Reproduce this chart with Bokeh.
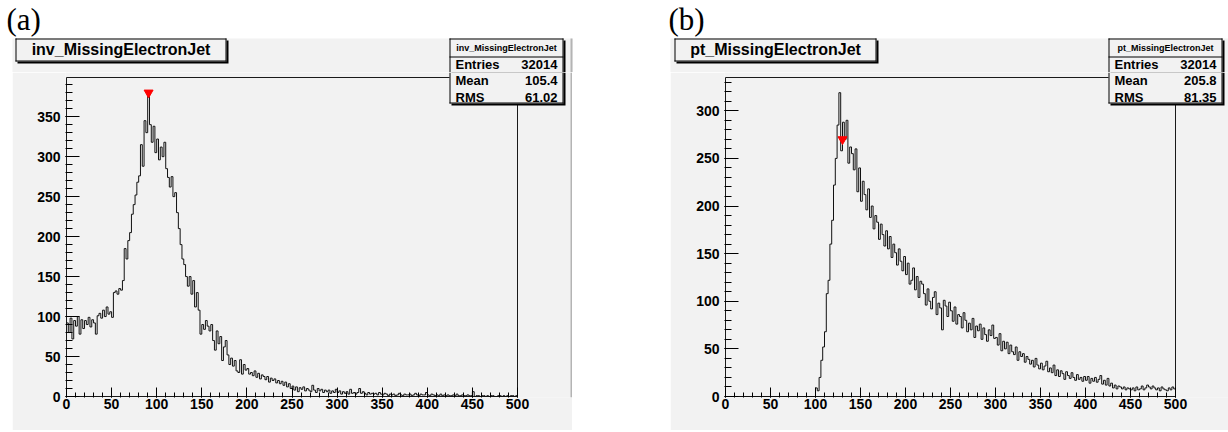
import numpy as np
from bokeh.embed import file_html
from bokeh.layouts import column, row
from bokeh.models import BoxAnnotation, FixedTicker, Label, Range1d
from bokeh.plotting import figure
from bokeh.resources import INLINE

# ---------------------------------------------------------------- data
X_MIN, X_MAX = 0, 500
TICK_STEP = 50
MINOR_STEP = 10

# invariant mass histogram, 250 bins of width 2 on [0, 500]
INV_COUNTS = [
    92, 80, 98, 72, 95, 88, 100, 78, 96, 85,
    95, 90, 99, 87, 96, 92, 78, 101,
    104, 98, 108, 100, 112, 103, 106, 99,
    130, 132, 128, 135, 133,
    145, 185, 172, 195, 205, 228, 240, 252, 268, 276,
    315, 288, 345, 330, 380, 340, 318, 338, 305, 322,
    296, 312, 300, 318, 285, 274, 262, 275, 250, 255,
    230, 210, 190, 172, 165, 150, 138, 150, 128, 145,
    112, 130, 108, 78, 90, 84, 95, 88, 82, 90,
    70, 58, 82, 66, 75, 45, 62, 70, 52, 40,
    48, 38, 45, 32, 30, 46, 28, 40, 33,
    35, 28, 30, 26, 32, 24, 29, 22, 27, 25,
    21, 25, 18, 23, 20, 22, 17, 20, 16, 19,
    14, 18, 12, 16, 10, 13, 8, 12, 6, 11,
    9, 12, 7, 10, 8, 6, 14, 8, 5, 10,
    7, 9, 5, 8, 6, 8, 4, 7, 5, 9,
    5, 7, 3, 6, 4, 6, 3, 9, 4, 5,
    3, 5, 10, 4, 6, 4, 2, 5, 3, 4,
    3, 4, 2, 5, 3, 2, 4, 3, 1, 3,
    2, 3, 1, 2, 4, 2, 1, 3, 2, 2,
    3, 1, 2, 4, 2, 1, 3, 2, 2, 5,
    2, 1, 3, 2, 1, 2, 1, 3, 1, 2,
    1, 2, 1, 1, 2, 1, 3, 1, 1, 2,
    1, 1, 2, 1, 1,
    6, 0, 1, 1, 0, 1, 1, 0, 1, 0,
    1, 1, 0, 0, 1, 1, 0, 1, 0, 1,
    0, 1, 1, 0, 1,
]

# transverse momentum histogram, 250 bins of width 2 on [0, 500]
PT_COUNTS = [
    0, 0, 0, 0, 0, 0, 0, 0, 0, 0,
    0, 0, 0, 0, 0, 0, 0, 0, 0, 0,
    0, 0, 0, 0, 0, 0, 0, 0, 0, 0,
    0, 0, 0, 0, 0, 0, 0, 0, 0, 0,
    0, 0, 0, 0, 0, 0, 0, 0, 0, 0,
    9, 6, 20, 38, 52, 68, 108, 122, 160, 185,
    222, 250, 285, 319, 258, 288, 270, 290, 245, 262,
    255, 238, 260, 215, 240, 205, 226, 212, 196, 218,
    188, 200, 176, 190, 183, 165, 181, 170, 158, 174,
    155, 168, 146, 160, 151, 138, 155, 142, 132, 147,
    128, 140, 118, 122, 135, 112, 126, 104, 121, 118,
    108, 96, 113, 100, 92, 104, 110, 86, 98, 93,
    70, 101, 95, 84, 99, 90, 79, 94, 76, 86,
    84, 72, 88, 80, 68, 77, 70, 82, 62, 74,
    69, 76, 60, 72, 65, 58, 70, 64, 75, 61,
    62, 54, 66, 48, 58, 50, 57, 45, 54, 47,
    44, 52, 38, 47, 42, 45, 36, 42, 39, 34,
    38, 31, 40, 33, 29, 35, 28, 32, 37, 26,
    30, 25, 33, 22, 28, 21, 27, 24, 18, 26,
    22, 19, 25, 20, 17, 23, 18, 20, 16, 21,
    17, 21, 14, 19, 16, 20, 15, 18, 22, 13,
    17, 12, 19, 11, 14, 9, 12, 8, 11, 10,
    8, 10, 7, 9, 8, 7, 9, 6, 10, 7,
    8, 11, 7, 9, 12, 10, 8, 11, 9, 7,
    9, 6, 10, 8, 7, 6, 9, 7, 10, 8,
]

# peak positions found on each spectrum (x, height)
INV_PEAK = (91, 380)
PT_PEAK = (130, 270)

INV_NAME = "inv_MissingElectronJet"
PT_NAME = "pt_MissingElectronJet"
INV_STATS = [("Entries", "32014"), ("Mean", "105.4"), ("RMS", "61.02")]
PT_STATS = [("Entries", "32014"), ("Mean", "205.8"), ("RMS", "81.35")]
PANEL_TAGS = ["(a)", "(b)"]

# ---------------------------------------------------------------- style
PANEL_W, PANEL_H = 614, 432
HEADER_H = 72            # strip holding the tag, title box and top of stats box
CANVAS = "#f2f2f2"
EDGE = "#b4b4b4"
SANS = "Liberation Sans"
SERIF = "Liberation Serif"

# pixel geometry of each panel, measured from the panel's top-left corner
GEOM_A = dict(axes=(66, 517, 77, 396), canvas=(12, 572, 38, 430),
              title=(15, 226, 38, 61), stats=(449, 563, 38, 103), tag=(6, 19))
GEOM_B = dict(axes=(111, 561, 77, 396), canvas=(56, 614, 38, 430),
              title=(60, 262, 38, 61), stats=(494, 608, 38, 103), tag=(54, 19))


class Sheet:
    """Draws boxes and texts given in panel pixels onto whichever
    figure frame contains them."""

    def __init__(self):
        self.parts = []       # (figure, (x0, x1, y0, y1) of its frame)

    def add(self, fig, bbox):
        self.parts.append((fig, bbox))

    def rect(self, X0, X1, Y0, Y1, color, only=None):
        for fig, (fx0, fx1, fy0, fy1) in self.parts:
            if only is not None and fig is not only:
                continue
            x0, x1 = max(X0, fx0), min(X1, fx1)
            y0, y1 = max(Y0, fy0), min(Y1, fy1)
            if x0 >= x1 or y0 >= y1:
                continue
            fig.add_layout(BoxAnnotation(
                left=x0 - fx0, right=x1 - fx0, top=fy1 - y0, bottom=fy1 - y1,
                left_units="screen", right_units="screen",
                top_units="screen", bottom_units="screen",
                fill_color=color, fill_alpha=1.0, line_color=None,
                level="overlay"))

    def frame_box(self, X0, X1, Y0, Y1, fill):
        self.rect(X0 + 2, X1 + 2, Y0 + 2, Y1 + 2, "black")     # drop shadow
        self.rect(X0, X1, Y0, Y1, fill)
        self.rect(X0, X1, Y0, Y0 + 1, "black")
        self.rect(X0, X1, Y1 - 1, Y1, "black")
        self.rect(X0, X0 + 1, Y0, Y1, "black")
        self.rect(X1 - 1, X1, Y0, Y1, "black")

    def text(self, X, Y, s, size, align="left", bold=True, font=SANS):
        for fig, (fx0, fx1, fy0, fy1) in self.parts:
            if fy0 <= Y < fy1:
                fig.add_layout(Label(
                    x=X - fx0, y=fy1 - Y, x_units="screen", y_units="screen",
                    text=s, text_font=font, text_font_size=f"{size}px",
                    text_font_style="bold" if bold else "normal",
                    text_align=align, text_baseline="middle",
                    text_color="black", level="overlay"))
                return


def make_panel(counts, peak, name, stats, tag, g):
    ax0, ax1, ay0, ay1 = g["axes"]
    cx0, cx1, cy0, cy1 = g["canvas"]
    ymax = 1.05 * max(counts)

    # data -> pixel scales of the histogram frame
    kx = (ax1 - ax0) / (X_MAX - X_MIN)
    ky = (ay1 - ay0) / ymax

    # plotting area: one pixel left of / below the axes, up to canvas edges
    fx0, fx1, fy0, fy1 = ax0 - 1, cx1, HEADER_H, ay1 + 1

    top = figure(width=PANEL_W, height=HEADER_H, output_backend="svg",
                 toolbar_location=None, x_range=Range1d(0, 1),
                 y_range=Range1d(0, 1), x_axis_location=None,
                 y_axis_location=None, min_border=0,
                 min_border_left=0, min_border_right=0,
                 min_border_top=0, min_border_bottom=0,
                 background_fill_color="white", border_fill_color="white",
                 outline_line_color=None, frame_align=False)
    top.grid.visible = False

    p = figure(width=cx1 - cx0, height=cy1 - HEADER_H, output_backend="svg",
               toolbar_location=None,
               x_range=Range1d(X_MIN - (ax0 - fx0) / kx, X_MIN + (fx1 - ax0) / kx),
               y_range=Range1d(-(fy1 - ay1) / ky, (ay1 - fy0) / ky),
               min_border=0,
               min_border_left=fx0 - cx0, min_border_right=cx1 - fx1,
               min_border_top=0, min_border_bottom=cy1 - fy1,
               border_fill_color=CANVAS, background_fill_color=CANVAS,
               outline_line_color=None, frame_align=False,
               margin=(0, PANEL_W - cx1, PANEL_H - cy1, cx0))
    p.grid.visible = False

    # histogram frame, outline and peak marker
    p.quad(left=[X_MIN], right=[X_MAX], bottom=[0], top=[ymax],
           fill_color=None, line_color="#1a1a1a", line_width=1)
    edges = np.linspace(X_MIN, X_MAX, len(counts) + 1)
    p.step(x=edges, y=np.append(counts, counts[-1]), mode="after",
           line_color="#111111", line_width=1)
    p.scatter(x=[peak[0]], y=[peak[1]], marker="inverted_triangle", size=9,
              fill_color="#ff0000", line_color="#ff0000")

    # axes with ticks pointing into the frame
    x_major = list(range(X_MIN, X_MAX + 1, TICK_STEP))
    x_minor = list(range(X_MIN, X_MAX + 1, MINOR_STEP))
    y_major = list(range(0, int(ymax) + 1, TICK_STEP))
    y_minor = list(range(0, int(ymax) + 1, MINOR_STEP))
    p.xaxis.ticker = FixedTicker(ticks=x_major, minor_ticks=x_minor)
    p.yaxis.ticker = FixedTicker(ticks=y_major, minor_ticks=y_minor)
    for ax in (p.xaxis[0], p.yaxis[0]):
        ax.axis_line_color = None
        ax.major_tick_line_color = "black"
        ax.minor_tick_line_color = "black"
        ax.major_tick_out = 0
        ax.minor_tick_out = 0
        ax.major_label_text_font = SANS
        ax.major_label_text_font_style = "bold"
        ax.major_label_text_font_size = "14px"
        ax.major_label_text_color = "black"
    p.yaxis.major_tick_in = 14
    p.yaxis.minor_tick_in = 7
    p.yaxis.major_label_standoff = 5
    p.xaxis.major_tick_in = 10
    p.xaxis.minor_tick_in = 5
    p.xaxis.major_label_standoff = 1

    sheet = Sheet()
    sheet.add(top, (0, PANEL_W, 0, HEADER_H))
    sheet.add(p, (fx0, fx1, fy0, fy1))

    # canvas under the header strip and its right edge
    sheet.rect(cx0, cx1, cy0, cy1, CANVAS, only=top)
    if cx1 < PANEL_W:
        sheet.rect(cx1 - 2, cx1, cy0, cy1, EDGE)

    # title box
    tx0, tx1, ty0, ty1 = g["title"]
    sheet.frame_box(tx0, tx1, ty0, ty1, CANVAS)
    sheet.text((tx0 + tx1) / 2, (ty0 + ty1) / 2 - 0.5, name, 16, align="center")

    # statistics box
    bx0, bx1, by0, by1 = g["stats"]
    sheet.frame_box(bx0, bx1, by0, by1, CANVAS)
    sheet.rect(bx0, bx1, by0 + 18, by0 + 19, "black")
    sheet.text((bx0 + bx1) / 2, by0 + 9, name, 9, align="center")
    for i, (key, val) in enumerate(stats):
        yy = by0 + 25.5 + i * 16.5
        sheet.text(bx0 + 6, yy, key, 13)
        sheet.text(bx1 - 6, yy, val, 13, align="right")

    # panel tag
    sheet.text(g["tag"][0], g["tag"][1], tag, 31, bold=False, font=SERIF)

    return column(top, p, spacing=0)


left = make_panel(INV_COUNTS, INV_PEAK, INV_NAME, INV_STATS, PANEL_TAGS[0], GEOM_A)
right = make_panel(PT_COUNTS, PT_PEAK, PT_NAME, PT_STATS, PANEL_TAGS[1], GEOM_B)

layout = row(left, right, spacing=0)
open("out.html", "w").write(file_html(layout, INLINE))
